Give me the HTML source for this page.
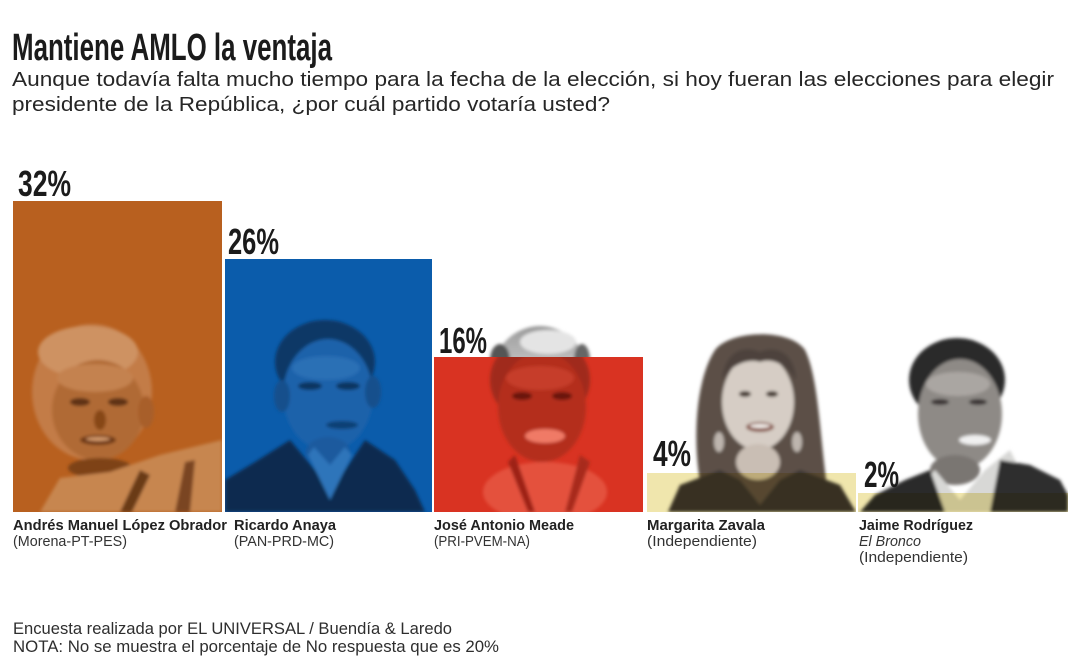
<!DOCTYPE html>
<html>
<head>
<meta charset="utf-8">
<style>
  html,body{margin:0;padding:0;background:#fff;}
  svg{display:block;}
</style>
</head>
<body>
<svg width="1081" height="666" viewBox="0 0 1081 666" xmlns="http://www.w3.org/2000/svg">
  <defs>
    <filter id="soft" x="-10%" y="-10%" width="120%" height="120%">
      <feGaussianBlur stdDeviation="1.6"/>
    </filter>
    <clipPath id="c1"><rect x="13" y="201" width="209" height="311"/></clipPath>
    <clipPath id="c2"><rect x="225" y="259" width="207" height="253"/></clipPath>
    <clipPath id="c3"><rect x="434" y="357" width="209" height="155"/></clipPath>
    <clipPath id="c3top"><rect x="434" y="300" width="209" height="57"/></clipPath>
    <clipPath id="c4"><rect x="647" y="300" width="209" height="212"/></clipPath>
    <clipPath id="c5"><rect x="858" y="300" width="210" height="212"/></clipPath>
    <linearGradient id="meadeHair" x1="0" y1="0" x2="0" y2="1">
      <stop offset="0" stop-color="#9a9a9a"/>
      <stop offset="0.5" stop-color="#d0d0d0"/>
      <stop offset="1" stop-color="#6a6a6a"/>
    </linearGradient>
  </defs>

  <rect width="1081" height="666" fill="#ffffff"/>

  <!-- Title -->
  <text x="12" y="60" font-family="'Liberation Sans', sans-serif" font-weight="bold" font-size="38" textLength="320" lengthAdjust="spacingAndGlyphs" fill="#1b1b1b">Mantiene AMLO la ventaja</text>
  <text x="12" y="86" font-family="'Liberation Sans', sans-serif" font-size="20" textLength="1042" lengthAdjust="spacingAndGlyphs" fill="#262626">Aunque todavía falta mucho tiempo para la fecha de la elección, si hoy fueran las elecciones para elegir</text>
  <text x="12" y="111" font-family="'Liberation Sans', sans-serif" font-size="20" textLength="598" lengthAdjust="spacingAndGlyphs" fill="#262626">presidente de la República, ¿por cuál partido votaría usted?</text>

  <!-- Bar 1: AMLO -->
  <rect x="13" y="201" width="209" height="311" fill="#B8601F"/>
  <g clip-path="url(#c1)" filter="url(#soft)">
    <ellipse cx="92" cy="392" rx="60" ry="68" fill="#C37B46"/>
    <ellipse cx="88" cy="352" rx="50" ry="26" fill="#CE9262"/>
    <ellipse cx="98" cy="410" rx="46" ry="50" fill="#B06A36"/>
    <ellipse cx="95" cy="378" rx="38" ry="14" fill="#C4824F"/>
    <ellipse cx="80" cy="402" rx="10" ry="4" fill="#5E3012"/>
    <ellipse cx="118" cy="402" rx="10" ry="4" fill="#5E3012"/>
    <ellipse cx="100" cy="420" rx="6" ry="10" fill="#874719"/>
    <ellipse cx="98" cy="440" rx="18" ry="5" fill="#6E3814"/>
    <ellipse cx="98" cy="439" rx="12" ry="2" fill="#D49A6C"/>
    <ellipse cx="146" cy="412" rx="8" ry="16" fill="#A85E2A"/>
    <ellipse cx="100" cy="468" rx="32" ry="10" fill="#7E4217"/>
    <path d="M40,512 L60,478 L110,472 L160,455 L222,440 L222,512 Z" fill="#C78650"/>
    <path d="M120,512 L140,470 L150,475 L132,512 Z" fill="#6A3A18"/>
    <path d="M175,512 L185,462 L195,460 L190,512 Z" fill="#7A4420"/>
  </g>

  <!-- Bar 2: Anaya -->
  <rect x="225" y="259" width="207" height="253" fill="#0B5CAB"/>
  <g clip-path="url(#c2)" filter="url(#soft)">
    <ellipse cx="325" cy="362" rx="50" ry="42" fill="#0D3766"/>
    <ellipse cx="328" cy="395" rx="45" ry="56" fill="#1D62AA"/>
    <ellipse cx="326" cy="368" rx="34" ry="12" fill="#2A6FB5"/>
    <ellipse cx="282" cy="396" rx="8" ry="16" fill="#174F8C"/>
    <ellipse cx="373" cy="392" rx="8" ry="16" fill="#174F8C"/>
    <ellipse cx="310" cy="386" rx="12" ry="4" fill="#0E3560"/>
    <ellipse cx="348" cy="386" rx="12" ry="4" fill="#0E3560"/>
    <ellipse cx="342" cy="425" rx="16" ry="4" fill="#0F3F74"/>
    <ellipse cx="328" cy="452" rx="22" ry="15" fill="#1A5A9E"/>
    <path d="M225,512 L225,480 L255,462 L290,440 L315,470 L330,495 L345,470 L365,440 L395,460 L415,490 L425,512 Z" fill="#0A2B50"/>
    <path d="M308,455 L330,500 L352,455 L345,447 L330,465 L314,447 Z" fill="#2E74BA"/>
  </g>

  <!-- Bar 3: Meade -->
  <rect x="434" y="357" width="209" height="155" fill="#D93322"/>
  <g clip-path="url(#c3top)" filter="url(#soft)">
    <ellipse cx="540" cy="378" rx="49" ry="52" fill="url(#meadeHair)"/>
    <ellipse cx="548" cy="342" rx="28" ry="12" fill="#e4e4e4"/>
    <ellipse cx="500" cy="360" rx="10" ry="16" fill="#555"/>
    <ellipse cx="582" cy="360" rx="8" ry="16" fill="#666"/>
  </g>
  <g clip-path="url(#c3)" filter="url(#soft)">
    <ellipse cx="540" cy="380" rx="50" ry="45" fill="#A0291C"/>
    <ellipse cx="542" cy="407" rx="44" ry="55" fill="#B42F1F"/>
    <ellipse cx="540" cy="378" rx="34" ry="12" fill="#C63D2A"/>
    <ellipse cx="522" cy="396" rx="10" ry="4" fill="#6A1810"/>
    <ellipse cx="562" cy="396" rx="10" ry="4" fill="#6A1810"/>
    <ellipse cx="545" cy="436" rx="20" ry="7" fill="#F07A66"/>
    <ellipse cx="545" cy="492" rx="62" ry="30" fill="#E4513C"/>
    <path d="M515,455 L535,512 L528,512 L508,462 Z" fill="#9E2418"/>
    <path d="M580,455 L565,512 L572,512 L590,462 Z" fill="#A82A1C"/>
  </g>

  <!-- Bar 4: Zavala -->
  <g clip-path="url(#c4)" filter="url(#soft)">
    <path d="M705,505 C690,450 695,380 715,350 C730,330 790,328 805,350 C820,380 820,450 830,505 Z" fill="#5b4f47"/>
    <ellipse cx="758" cy="402" rx="36" ry="48" fill="#d6cdc5"/>
    <path d="M722,380 C725,350 745,345 760,352 C775,345 795,352 796,380 C785,362 770,358 760,362 C748,358 730,365 722,380 Z" fill="#4d423c"/>
    <ellipse cx="745" cy="394" rx="6" ry="3" fill="#4a3c36"/>
    <ellipse cx="772" cy="394" rx="6" ry="3" fill="#4a3c36"/>
    <ellipse cx="760" cy="427" rx="14" ry="5" fill="#8a5a50"/>
    <ellipse cx="760" cy="426" rx="10" ry="2" fill="#f4f0ec"/>
    <ellipse cx="719" cy="442" rx="5" ry="10" fill="#bdb5ae"/>
    <ellipse cx="797" cy="442" rx="5" ry="10" fill="#bdb5ae"/>
    <ellipse cx="758" cy="462" rx="22" ry="18" fill="#c9beb4"/>
    <path d="M668,512 L680,485 L720,470 L740,480 L760,505 L780,480 L800,470 L840,485 L856,512 Z" fill="#3b3532"/>
  </g>
  <rect x="647" y="473" width="209" height="39" fill="#F0E6AD" style="mix-blend-mode:multiply"/>

  <!-- Bar 5: Bronco -->
  <g clip-path="url(#c5)" filter="url(#soft)">
    <ellipse cx="957" cy="380" rx="48" ry="42" fill="#2c2c2c"/>
    <ellipse cx="960" cy="414" rx="42" ry="55" fill="#8e8a86"/>
    <ellipse cx="958" cy="384" rx="32" ry="12" fill="#aaa6a2"/>
    <ellipse cx="940" cy="402" rx="9" ry="3" fill="#3a3634"/>
    <ellipse cx="978" cy="402" rx="9" ry="3" fill="#3a3634"/>
    <ellipse cx="975" cy="440" rx="16" ry="5" fill="#f0f0f0"/>
    <ellipse cx="955" cy="470" rx="25" ry="15" fill="#7a7672"/>
    <path d="M925,480 L935,470 L960,500 L985,470 L1010,450 L1020,470 L1000,512 L940,512 Z" fill="#d8d8d6"/>
    <path d="M860,512 L875,495 L905,480 L930,470 L945,512 Z" fill="#2b2b2b"/>
    <path d="M1000,460 L1030,465 L1060,480 L1068,495 L1068,512 L990,512 Z" fill="#2d2d2d"/>
  </g>
  <rect x="858" y="493" width="210" height="19" fill="#F0E6AD" style="mix-blend-mode:multiply"/>

  <!-- Percentages -->
  <g font-family="'Liberation Sans', sans-serif" font-weight="bold" font-size="36" fill="#1b1b1b">
    <text x="18" y="196" textLength="53" lengthAdjust="spacingAndGlyphs">32%</text>
    <text x="228" y="254" textLength="51" lengthAdjust="spacingAndGlyphs">26%</text>
    <text x="439" y="353" textLength="48" lengthAdjust="spacingAndGlyphs">16%</text>
    <text x="653" y="466" textLength="38" lengthAdjust="spacingAndGlyphs">4%</text>
    <text x="864" y="487" textLength="35" lengthAdjust="spacingAndGlyphs">2%</text>
  </g>

  <!-- Names -->
  <g font-family="'Liberation Sans', sans-serif" font-size="14.5">
    <text x="13" y="530" font-weight="bold" fill="#222" textLength="214" lengthAdjust="spacingAndGlyphs">Andrés Manuel López Obrador</text>
    <text x="13" y="546" fill="#333" textLength="114" lengthAdjust="spacingAndGlyphs">(Morena-PT-PES)</text>

    <text x="234" y="530" font-weight="bold" fill="#222" textLength="102" lengthAdjust="spacingAndGlyphs">Ricardo Anaya</text>
    <text x="234" y="546" fill="#333" textLength="100" lengthAdjust="spacingAndGlyphs">(PAN-PRD-MC)</text>

    <text x="434" y="530" font-weight="bold" fill="#222" textLength="140" lengthAdjust="spacingAndGlyphs">José Antonio Meade</text>
    <text x="434" y="546" fill="#333" textLength="96" lengthAdjust="spacingAndGlyphs">(PRI-PVEM-NA)</text>

    <text x="647" y="530" font-weight="bold" fill="#222" textLength="118" lengthAdjust="spacingAndGlyphs">Margarita Zavala</text>
    <text x="647" y="546" fill="#333" textLength="110" lengthAdjust="spacingAndGlyphs">(Independiente)</text>

    <text x="859" y="530" font-weight="bold" fill="#222" textLength="114" lengthAdjust="spacingAndGlyphs">Jaime Rodríguez</text>
    <text x="859" y="546" fill="#333" font-style="italic" textLength="62" lengthAdjust="spacingAndGlyphs">El Bronco</text>
    <text x="859" y="562" fill="#333" textLength="109" lengthAdjust="spacingAndGlyphs">(Independiente)</text>
  </g>

  <!-- Footer -->
  <g font-family="'Liberation Sans', sans-serif" font-size="16.5" fill="#2e2e2e">
    <text x="13" y="634" textLength="439" lengthAdjust="spacingAndGlyphs">Encuesta realizada por EL UNIVERSAL / Buendía &amp; Laredo</text>
    <text x="13" y="652" textLength="486" lengthAdjust="spacingAndGlyphs">NOTA: No se muestra el porcentaje de No respuesta que es 20%</text>
  </g>
</svg>
</body>
</html>
